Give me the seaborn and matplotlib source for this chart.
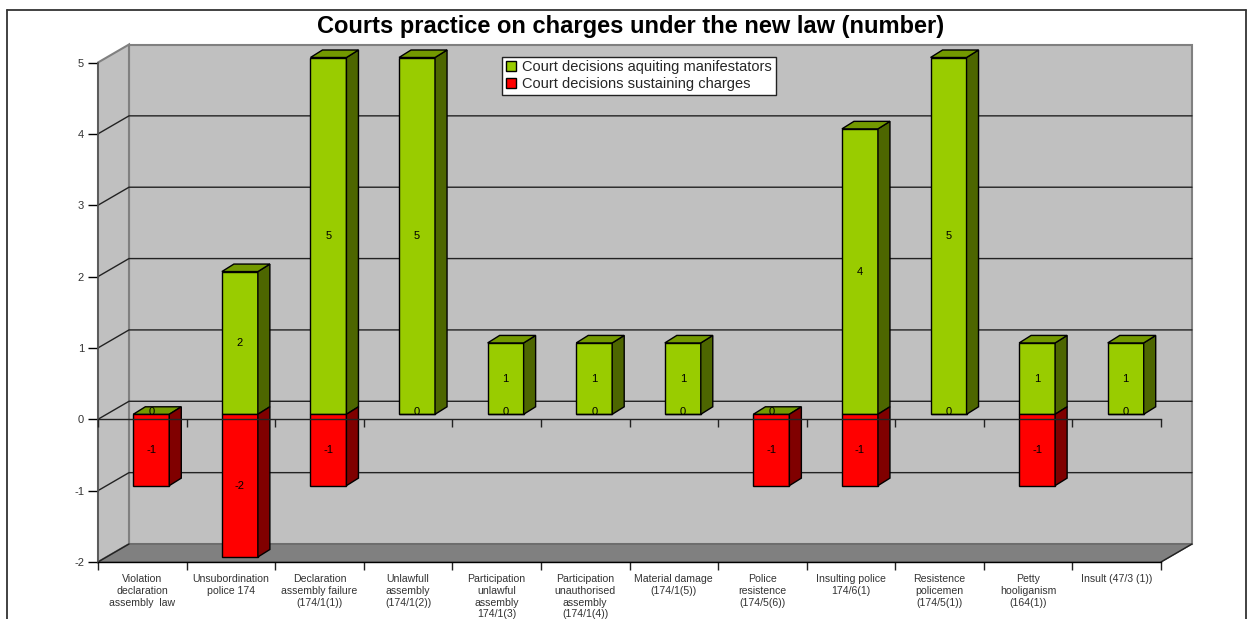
import matplotlib
matplotlib.use("Agg")
import matplotlib.pyplot as plt
import pandas as pd
import seaborn as sns
import numpy as np
from matplotlib.lines import Line2D
from matplotlib.patches import Polygon

categories = ["Violation\ndeclaration\nassembly  law", "Unsubordination\npolice 174",
              "Declaration\nassembly failure\n(174/1(1))", "Unlawfull\nassembly\n(174/1(2))",
              "Participation\nunlawful\nassembly\n174/1(3)", "Participation\nunauthorised\nassembly\n(174/1(4))",
              "Material damage\n(174/1(5))", "Police\nresistence\n(174/5(6))",
              "Insulting police\n174/6(1)", "Resistence\npolicemen\n(174/5(1))",
              "Petty\nhooliganism\n(164(1))", "Insult (47/3 (1))"]
aquiting = [0, 2, 5, 5, 1, 1, 1, 0, 4, 5, 1, 1]
sustaining = [-1, -2, -1, 0, 0, 0, 0, -1, -1, 0, -1, 0]
y_ticks = [-2, -1, 0, 1, 2, 3, 4, 5]
name_a = "Court decisions aquiting manifestators"
name_s = "Court decisions sustaining charges"

W, H = 1254, 619
sns.set_theme(style="white")
plt.rcParams["font.family"] = ["Liberation Sans", "DejaVu Sans"]
plt.rcParams["axes.unicode_minus"] = False

df = pd.DataFrame({"category": categories * 2,
                   "value": aquiting + sustaining,
                   "series": [name_a] * 12 + [name_s] * 12})

fig = plt.figure(figsize=(W / 100, H / 100), dpi=100, facecolor="white")
pos = [98 / W, (H - 562) / H, 1063 / W, 499.5 / H]
xlim = (-0.5, 11.5)
ylim = (-2, 5)
dx, dy = 31 / 88.6, 18 / 71.36      # wall depth in data units
bx, by = 12 / 88.6, 7.5 / 71.36     # bar depth

# walls, floor and grid
ax = fig.add_axes(pos)
ax.set_xlim(xlim)
ax.set_ylim(ylim)
ax.patch.set_visible(False)
x0, x1 = xlim
y0, y1 = ylim
wall = dict(facecolor="#c0c0c0", edgecolor="#808080", linewidth=1.5, clip_on=False, zorder=0)
ax.add_patch(Polygon([(x0 + dx, y0 + dy), (x1 + dx, y0 + dy), (x1 + dx, y1 + dy), (x0 + dx, y1 + dy)], **wall))
ax.add_patch(Polygon([(x0, y0), (x0 + dx, y0 + dy), (x0 + dx, y1 + dy), (x0, y1)], **wall))
ax.add_patch(Polygon([(x0, y0), (x1, y0), (x1 + dx, y0 + dy), (x0 + dx, y0 + dy)],
                     facecolor="#808080", edgecolor="#666666", linewidth=1, clip_on=False, zorder=0.5))
for v in y_ticks[1:-1]:
    ax.plot([x0, x0 + dx, x1 + dx], [v, v + dy, v + dy], color="#222222", lw=1, clip_on=False, zorder=0.6)
ax.plot([x0, x0 + dx], [y0, y0 + dy], color="#222222", lw=1, clip_on=False, zorder=0.6)
ax.plot([x1, x1 + dx], [y0, y0 + dy], color="#222222", lw=1, clip_on=False, zorder=0.6)

sns.despine(ax=ax, top=True, right=True)
ax.spines["left"].set_color("#555555")
ax.spines["left"].set_linewidth(1.2)
ax.spines["bottom"].set_color("black")
ax.spines["bottom"].set_linewidth(1)
ax.set_yticks(y_ticks)
ax.set_xticks(np.arange(12), labels=categories, minor=False)
ax.set_xticks(np.arange(13) - 0.5, minor=True)
ax.tick_params(axis="y", left=True, length=7, width=1, color="black", labelsize=8, labelcolor="#333333", pad=3)
ax.tick_params(axis="x", which="major", bottom=False, labelsize=7.6, labelcolor="#333333", pad=3)
ax.tick_params(axis="x", which="minor", bottom=True, length=5.5, width=1, color="#222222")
for t in ax.get_xticklabels():
    t.set_linespacing(1.2)

# bars, shifted half way into the depth of the chart
ax_bars = fig.add_axes([pos[0] + 9 / W, pos[1] + 5 / H, pos[2], pos[3]])
sns.barplot(data=df, x="category", y="value", hue="series", dodge=False, width=36 / 88.6,
            palette={name_a: "#99cc00", name_s: "#ff0000"}, saturation=1, edgecolor="black", linewidth=1,
            errorbar=None, ax=ax_bars)
ax_bars.set_xlim(xlim)
ax_bars.set_ylim(ylim)
ax_bars.axis("off")

side_cols = ["#4d6600", "#800000"]
top_cols = ["#739900", "#bf0000"]
for cont, sc, tc, is_green in zip(ax_bars.containers, side_cols, top_cols, [True, False]):
    for b in cont:
        b.set_clip_on(False)
        l, r = b.get_x(), b.get_x() + b.get_width()
        lo, hi = sorted([b.get_y(), b.get_y() + b.get_height()])
        val = b.get_height()
        if val != 0:
            ax_bars.add_patch(Polygon([(r, lo), (r + bx, lo + by), (r + bx, hi + by), (r, hi)],
                                      facecolor=sc, edgecolor="black", lw=1, clip_on=False, zorder=2))
        if is_green:
            ax_bars.add_patch(Polygon([(l, hi), (r, hi), (r + bx, hi + by), (l + bx, hi + by)],
                                      facecolor=tc, edgecolor="black", lw=1, clip_on=False, zorder=2))
        if val == 0:
            show_it = (is_green and sustaining[int(round((l + r) / 2))] != 0) or \
                      (not is_green and aquiting[int(round((l + r) / 2))] != 0)
            if show_it:
                ax_bars.annotate("0", ((l + r) / 2, 0), xytext=(0, 1.5), textcoords="offset points",
                                 ha="center", va="center", fontsize=8, color="black", zorder=5)
        else:
            ax_bars.text((l + r) / 2, (lo + hi) / 2, str(int(val)), ha="center", va="center",
                         fontsize=8, color="black", zorder=5)

ax_bars.legend(title=None, loc="upper left", bbox_to_anchor=(502 / W, 1 - 56.5 / H),
               bbox_transform=fig.transFigure, fancybox=False, framealpha=1, facecolor="white",
               edgecolor="#222222", fontsize=10.5, handlelength=0.7, handleheight=0.7,
               handletextpad=0.45, labelspacing=0.2, borderpad=0.25, borderaxespad=0)

# axis line through zero sits on top of the bars
ax_zero = fig.add_axes(pos)
ax_zero.set_xlim(xlim)
ax_zero.set_ylim(ylim)
ax_zero.patch.set_visible(False)
for s in ["top", "right", "left"]:
    ax_zero.spines[s].set_visible(False)
ax_zero.spines["bottom"].set_position(("data", 0))
ax_zero.spines["bottom"].set_color("#222222")
ax_zero.spines["bottom"].set_linewidth(1)
ax_zero.set_yticks([])
ax_zero.set_xticks(np.arange(13) - 0.5, labels=[""] * 13)
ax_zero.tick_params(axis="x", bottom=True, length=5.5, width=1, color="#222222")

fig.text(630.5 / W, 1 - 27 / H, "Courts practice on charges under the new law (number)",
         ha="center", va="center", fontsize=17, fontweight="bold", color="black")

# outer frame, cut by the bottom of the image
for xs, ys in [([7, 7], [0, H - 10]), ([7, 1246], [H - 10, H - 10]), ([1246, 1246], [H - 10, 0])]:
    fig.add_artist(Line2D(np.array(xs) / W, np.array(ys) / H, color="#333333", lw=1.3))

fig.savefig("out.png", dpi=100)
